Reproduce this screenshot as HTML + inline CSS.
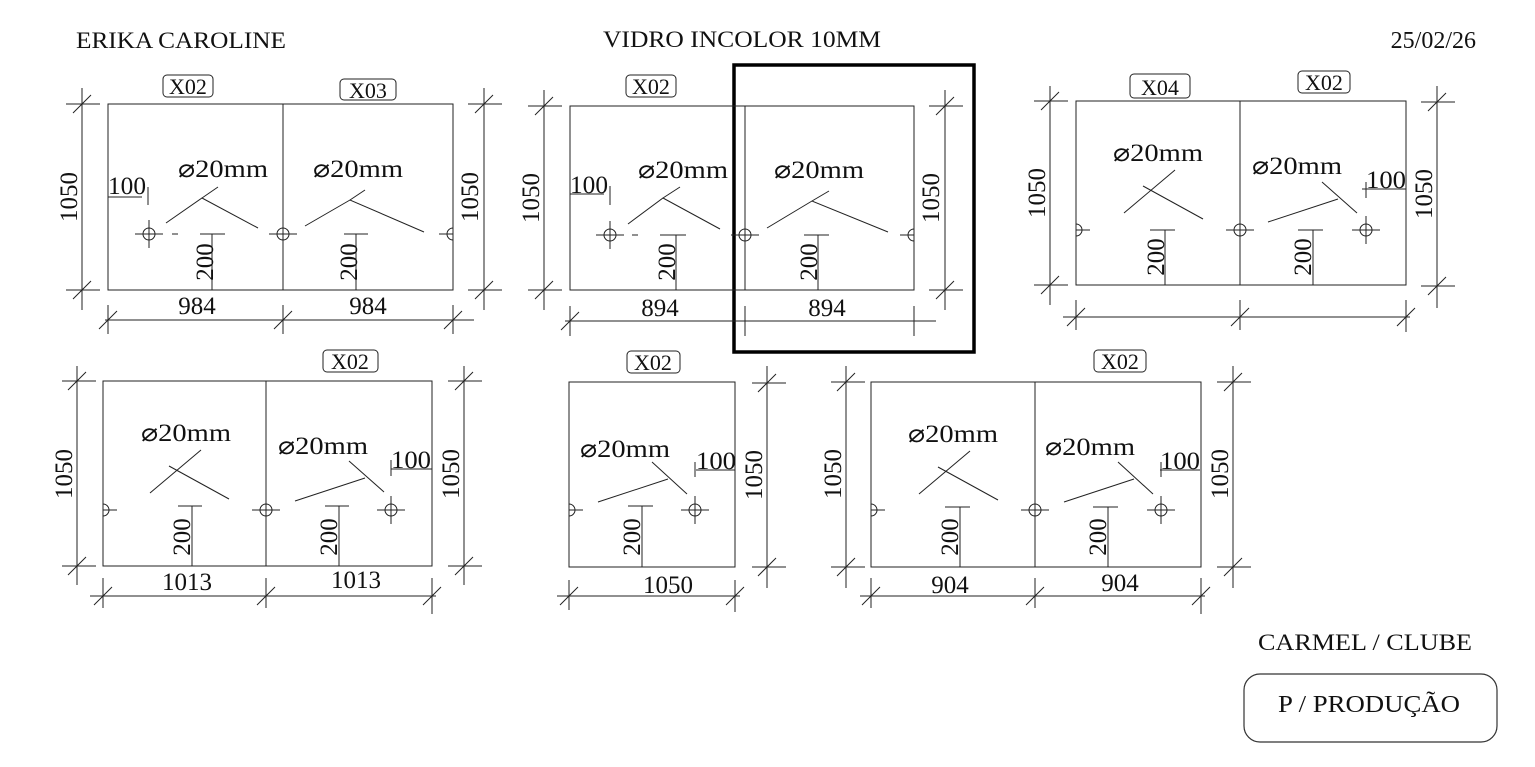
<!DOCTYPE html>
<html><head><meta charset="utf-8"><style>
html,body{margin:0;padding:0;background:#fff}
svg{display:block}
text{font-family:"Liberation Serif","DejaVu Serif",serif;fill:#111}
</style></head><body>
<svg width="1535" height="767" viewBox="0 0 1535 767" xmlns="http://www.w3.org/2000/svg">
<defs>
<g id="h" fill="none" stroke="#222" stroke-width="1"><circle r="6"/><line x1="-14" y1="0" x2="14" y2="0"/><line x1="0" y1="-14" x2="0" y2="14"/></g>
<g id="hc" fill="none" stroke="#222" stroke-width="1"><circle r="6"/><line x1="-14" y1="0" x2="14" y2="0"/></g>
<g id="hr" fill="none" stroke="#222" stroke-width="1"><path d="M0,-6 A6,6 0 0 0 0,6"/><line x1="-14" y1="0" x2="0" y2="0"/></g>
<g id="hl" fill="none" stroke="#222" stroke-width="1"><path d="M0,-6 A6,6 0 0 1 0,6"/><line x1="0" y1="0" x2="14" y2="0"/></g>
<line id="t" x1="-9" y1="9" x2="9" y2="-9" stroke="#222" stroke-width="1"/>
</defs>
<g font-size="23">
<text x="76" y="48" textLength="210" lengthAdjust="spacingAndGlyphs">ERIKA CAROLINE</text>
<text x="603" y="47" textLength="278" lengthAdjust="spacingAndGlyphs">VIDRO INCOLOR 10MM</text>
<text x="1476" y="48" text-anchor="end" font-size="24">25/02/26</text>
<text x="1258" y="650" textLength="214" lengthAdjust="spacingAndGlyphs">CARMEL / CLUBE</text>
<text x="1278" y="712" textLength="182" lengthAdjust="spacingAndGlyphs" font-size="24">P / PRODUÇÃO</text>
</g>
<rect x="1244" y="674" width="253" height="68" rx="16" fill="none" stroke="#333" stroke-width="1.2"/>
<rect x="734" y="65" width="240" height="287" fill="none" stroke="#000" stroke-width="3.5"/>

<g stroke="#222" stroke-width="1" fill="none">
<rect x="108" y="104" width="345" height="186"/><line x1="283" y1="104" x2="283" y2="290"/>
<line x1="82" y1="88" x2="82" y2="310"/><line x1="66" y1="104" x2="100" y2="104"/><line x1="66" y1="290" x2="100" y2="290"/>
<line x1="484" y1="88" x2="484" y2="310"/><line x1="468" y1="104" x2="502" y2="104"/><line x1="468" y1="290" x2="502" y2="290"/>
<line x1="105" y1="320" x2="474" y2="320"/><line x1="108" y1="305" x2="108" y2="334"/><line x1="283" y1="305" x2="283" y2="334"/><line x1="453" y1="305" x2="453" y2="334"/>
<line x1="108" y1="197" x2="142" y2="197"/><line x1="148" y1="187" x2="148" y2="205"/>
<line x1="212" y1="234" x2="212" y2="290"/><line x1="200" y1="234" x2="225" y2="234"/>
<line x1="356" y1="234" x2="356" y2="290"/><line x1="344" y1="234" x2="368" y2="234"/>
<line x1="172" y1="234" x2="178" y2="234"/>
<polyline points="166,223 202,198 258,228"/><line x1="202" y1="198" x2="218" y2="187"/>
<polyline points="305,226 350,200 424,232"/><line x1="350" y1="200" x2="365" y2="190"/>
<rect x="570" y="106" width="344" height="184"/><line x1="745" y1="106" x2="745" y2="290"/>
<line x1="544" y1="90" x2="544" y2="310"/><line x1="528" y1="106" x2="562" y2="106"/><line x1="528" y1="290" x2="562" y2="290"/>
<line x1="945" y1="90" x2="945" y2="310"/><line x1="929" y1="106" x2="963" y2="106"/><line x1="929" y1="290" x2="963" y2="290"/>
<line x1="565" y1="321" x2="936" y2="321"/><line x1="570" y1="306" x2="570" y2="336"/><line x1="745" y1="306" x2="745" y2="336"/><line x1="914" y1="306" x2="914" y2="336"/>
<line x1="570" y1="194" x2="604" y2="194"/><line x1="610" y1="186" x2="610" y2="205"/>
<line x1="676" y1="235" x2="676" y2="290"/><line x1="660" y1="235" x2="686" y2="235"/>
<line x1="818" y1="235" x2="818" y2="290"/><line x1="804" y1="235" x2="829" y2="235"/>
<line x1="632" y1="235" x2="638" y2="235"/>
<polyline points="628,224 663,198 720,229"/><line x1="663" y1="198" x2="680" y2="187"/>
<polyline points="767,228 812,201 888,232"/><line x1="812" y1="201" x2="829" y2="191"/>
<rect x="1076" y="101" width="330" height="184"/><line x1="1240" y1="101" x2="1240" y2="285"/>
<line x1="1050" y1="86" x2="1050" y2="305"/><line x1="1034" y1="101" x2="1068" y2="101"/><line x1="1034" y1="285" x2="1068" y2="285"/>
<line x1="1437" y1="86" x2="1437" y2="308"/><line x1="1421" y1="102" x2="1455" y2="102"/><line x1="1421" y1="286" x2="1455" y2="286"/>
<line x1="1063" y1="317" x2="1410" y2="317"/><line x1="1076" y1="300" x2="1076" y2="330"/><line x1="1240" y1="300" x2="1240" y2="330"/><line x1="1406" y1="300" x2="1406" y2="332"/>
<line x1="1362" y1="189" x2="1406" y2="189"/><line x1="1366" y1="182" x2="1366" y2="198"/>
<line x1="1165" y1="230" x2="1165" y2="285"/><line x1="1150" y1="230" x2="1175" y2="230"/>
<line x1="1313" y1="230" x2="1313" y2="285"/><line x1="1298" y1="230" x2="1323" y2="230"/>
<line x1="1124" y1="213" x2="1175" y2="170"/><line x1="1143" y1="186" x2="1203" y2="219"/>
<line x1="1268" y1="222" x2="1338" y2="199"/><line x1="1322" y1="182" x2="1357" y2="213"/>
<rect x="103" y="381" width="329" height="185"/><line x1="266" y1="381" x2="266" y2="566"/>
<line x1="77" y1="366" x2="77" y2="585"/><line x1="62" y1="381" x2="96" y2="381"/><line x1="62" y1="566" x2="96" y2="566"/>
<line x1="464" y1="366" x2="464" y2="585"/><line x1="448" y1="381" x2="482" y2="381"/><line x1="448" y1="566" x2="482" y2="566"/>
<line x1="90" y1="596" x2="436" y2="596"/><line x1="103" y1="578" x2="103" y2="608"/><line x1="266" y1="578" x2="266" y2="608"/><line x1="432" y1="578" x2="432" y2="614"/>
<line x1="391" y1="469" x2="432" y2="469"/><line x1="391" y1="460" x2="391" y2="476"/>
<line x1="192" y1="506" x2="192" y2="566"/><line x1="178" y1="506" x2="202" y2="506"/>
<line x1="339" y1="506" x2="339" y2="566"/><line x1="325" y1="506" x2="349" y2="506"/>
<line x1="150" y1="493" x2="201" y2="450"/><line x1="169" y1="466" x2="229" y2="499"/>
<line x1="295" y1="501" x2="365" y2="478"/><line x1="349" y1="461" x2="384" y2="492"/>
<rect x="569" y="382" width="166" height="185"/>
<line x1="767" y1="366" x2="767" y2="588"/><line x1="752" y1="383" x2="786" y2="383"/><line x1="752" y1="567" x2="786" y2="567"/>
<line x1="557" y1="596" x2="740" y2="596"/><line x1="569" y1="580" x2="569" y2="610"/><line x1="735" y1="580" x2="735" y2="612"/>
<line x1="696" y1="470" x2="735" y2="470"/><line x1="695" y1="462" x2="695" y2="477"/>
<line x1="642" y1="506" x2="642" y2="567"/><line x1="628" y1="506" x2="653" y2="506"/>
<line x1="598" y1="502" x2="668" y2="479"/><line x1="652" y1="462" x2="687" y2="494"/>
<rect x="871" y="382" width="330" height="185"/><line x1="1035" y1="382" x2="1035" y2="567"/>
<line x1="846" y1="366" x2="846" y2="588"/><line x1="831" y1="382" x2="865" y2="382"/><line x1="831" y1="567" x2="865" y2="567"/>
<line x1="1233" y1="366" x2="1233" y2="588"/><line x1="1217" y1="382" x2="1251" y2="382"/><line x1="1217" y1="567" x2="1251" y2="567"/>
<line x1="860" y1="596" x2="1205" y2="596"/><line x1="871" y1="578" x2="871" y2="608"/><line x1="1035" y1="578" x2="1035" y2="608"/><line x1="1201" y1="578" x2="1201" y2="614"/>
<line x1="1160" y1="470" x2="1200" y2="470"/><line x1="1161" y1="462" x2="1161" y2="477"/>
<line x1="960" y1="507" x2="960" y2="567"/><line x1="945" y1="507" x2="970" y2="507"/>
<line x1="1108" y1="507" x2="1108" y2="567"/><line x1="1093" y1="507" x2="1118" y2="507"/>
<line x1="919" y1="494" x2="970" y2="451"/><line x1="938" y1="467" x2="998" y2="500"/>
<line x1="1064" y1="502" x2="1134" y2="479"/><line x1="1118" y1="462" x2="1153" y2="494"/>
<rect x="163" y="75" width="50" height="22" rx="4"/><rect x="340" y="79" width="56" height="21" rx="4"/>
<rect x="626" y="75" width="50" height="22" rx="4"/>
<rect x="1130" y="74" width="60" height="24" rx="4"/><rect x="1298" y="71" width="52" height="22" rx="4"/>
<rect x="323" y="350" width="55" height="22" rx="4"/><rect x="627" y="351" width="53" height="22" rx="4"/><rect x="1094" y="350" width="52" height="22" rx="4"/>
</g>
<use href="#h" x="149" y="234"/><use href="#hc" x="283" y="234"/><use href="#hr" x="453" y="234"/>
<use href="#h" x="610" y="235"/><use href="#hc" x="745" y="235"/><use href="#hr" x="914" y="235"/>
<use href="#hl" x="1076" y="230"/><use href="#hc" x="1240" y="230"/><use href="#h" x="1366" y="230"/>
<use href="#hl" x="103" y="510"/><use href="#hc" x="266" y="510"/><use href="#h" x="391" y="510"/>
<use href="#hl" x="569" y="510"/><use href="#h" x="695" y="510"/>
<use href="#hl" x="871" y="510"/><use href="#hc" x="1035" y="510"/><use href="#h" x="1161" y="510"/>
<use href="#t" x="82" y="104"/><use href="#t" x="82" y="290"/><use href="#t" x="484" y="104"/><use href="#t" x="484" y="290"/>
<use href="#t" x="108" y="320"/><use href="#t" x="283" y="320"/><use href="#t" x="453" y="320"/>
<use href="#t" x="544" y="106"/><use href="#t" x="544" y="290"/><use href="#t" x="945" y="106"/><use href="#t" x="945" y="290"/>
<use href="#t" x="570" y="321"/>
<use href="#t" x="1050" y="101"/><use href="#t" x="1050" y="285"/><use href="#t" x="1437" y="102"/><use href="#t" x="1437" y="286"/>
<use href="#t" x="1076" y="317"/><use href="#t" x="1240" y="317"/><use href="#t" x="1406" y="317"/>
<use href="#t" x="77" y="381"/><use href="#t" x="77" y="566"/><use href="#t" x="464" y="381"/><use href="#t" x="464" y="566"/>
<use href="#t" x="103" y="596"/><use href="#t" x="266" y="596"/><use href="#t" x="432" y="596"/>
<use href="#t" x="767" y="383"/><use href="#t" x="767" y="567"/><use href="#t" x="569" y="596"/><use href="#t" x="735" y="596"/>
<use href="#t" x="846" y="382"/><use href="#t" x="846" y="567"/><use href="#t" x="1233" y="382"/><use href="#t" x="1233" y="567"/>
<use href="#t" x="871" y="596"/><use href="#t" x="1035" y="596"/><use href="#t" x="1201" y="596"/>
<g font-size="22">
<text x="188" y="94" text-anchor="middle">X02</text><text x="368" y="98" text-anchor="middle">X03</text>
<text x="651" y="94" text-anchor="middle">X02</text>
<text x="1160" y="95" text-anchor="middle">X04</text><text x="1324" y="90" text-anchor="middle">X02</text>
<text x="350" y="369" text-anchor="middle">X02</text><text x="653" y="370" text-anchor="middle">X02</text><text x="1120" y="369" text-anchor="middle">X02</text>
</g>
<g font-size="25">
<text x="197" y="314" text-anchor="middle">984</text><text x="368" y="314" text-anchor="middle">984</text>
<text x="660" y="316" text-anchor="middle">894</text><text x="827" y="316" text-anchor="middle">894</text>
<text x="187" y="590" text-anchor="middle">1013</text><text x="356" y="588" text-anchor="middle">1013</text>
<text x="668" y="593" text-anchor="middle">1050</text>
<text x="950" y="593" text-anchor="middle">904</text><text x="1120" y="591" text-anchor="middle">904</text>
<text x="108" y="194" textLength="38" lengthAdjust="spacingAndGlyphs">100</text><text x="570" y="193" textLength="38" lengthAdjust="spacingAndGlyphs">100</text>
<text x="1366" y="188" textLength="40" lengthAdjust="spacingAndGlyphs">100</text><text x="391" y="468" textLength="40" lengthAdjust="spacingAndGlyphs">100</text><text x="696" y="469" textLength="40" lengthAdjust="spacingAndGlyphs">100</text><text x="1160" y="469" textLength="40" lengthAdjust="spacingAndGlyphs">100</text>
</g>
<g font-size="25">
<text x="178" y="177" textLength="90" lengthAdjust="spacingAndGlyphs">⌀20mm</text><text x="313" y="177" textLength="90" lengthAdjust="spacingAndGlyphs">⌀20mm</text>
<text x="638" y="178" textLength="90" lengthAdjust="spacingAndGlyphs">⌀20mm</text><text x="774" y="178" textLength="90" lengthAdjust="spacingAndGlyphs">⌀20mm</text>
<text x="1113" y="161" textLength="90" lengthAdjust="spacingAndGlyphs">⌀20mm</text><text x="1252" y="174" textLength="90" lengthAdjust="spacingAndGlyphs">⌀20mm</text>
<text x="141" y="441" textLength="90" lengthAdjust="spacingAndGlyphs">⌀20mm</text><text x="278" y="454" textLength="90" lengthAdjust="spacingAndGlyphs">⌀20mm</text>
<text x="580" y="457" textLength="90" lengthAdjust="spacingAndGlyphs">⌀20mm</text>
<text x="908" y="442" textLength="90" lengthAdjust="spacingAndGlyphs">⌀20mm</text><text x="1045" y="455" textLength="90" lengthAdjust="spacingAndGlyphs">⌀20mm</text>
</g>
<g font-size="25">
<text transform="translate(77,197) rotate(-90)" text-anchor="middle">1050</text>
<text transform="translate(478,197) rotate(-90)" text-anchor="middle">1050</text>
<text transform="translate(539,198) rotate(-90)" text-anchor="middle">1050</text>
<text transform="translate(939,198) rotate(-90)" text-anchor="middle">1050</text>
<text transform="translate(1045,193) rotate(-90)" text-anchor="middle">1050</text>
<text transform="translate(1432,194) rotate(-90)" text-anchor="middle">1050</text>
<text transform="translate(72,474) rotate(-90)" text-anchor="middle">1050</text>
<text transform="translate(459,474) rotate(-90)" text-anchor="middle">1050</text>
<text transform="translate(762,475) rotate(-90)" text-anchor="middle">1050</text>
<text transform="translate(841,474) rotate(-90)" text-anchor="middle">1050</text>
<text transform="translate(1228,474) rotate(-90)" text-anchor="middle">1050</text>
<text transform="translate(213,262) rotate(-90)" text-anchor="middle">200</text>
<text transform="translate(357,262) rotate(-90)" text-anchor="middle">200</text>
<text transform="translate(675,262) rotate(-90)" text-anchor="middle">200</text>
<text transform="translate(817,262) rotate(-90)" text-anchor="middle">200</text>
<text transform="translate(1164,257) rotate(-90)" text-anchor="middle">200</text>
<text transform="translate(1311,257) rotate(-90)" text-anchor="middle">200</text>
<text transform="translate(190,537) rotate(-90)" text-anchor="middle">200</text>
<text transform="translate(337,537) rotate(-90)" text-anchor="middle">200</text>
<text transform="translate(640,537) rotate(-90)" text-anchor="middle">200</text>
<text transform="translate(958,537) rotate(-90)" text-anchor="middle">200</text>
<text transform="translate(1106,537) rotate(-90)" text-anchor="middle">200</text>
</g>
</svg>
</body></html>
